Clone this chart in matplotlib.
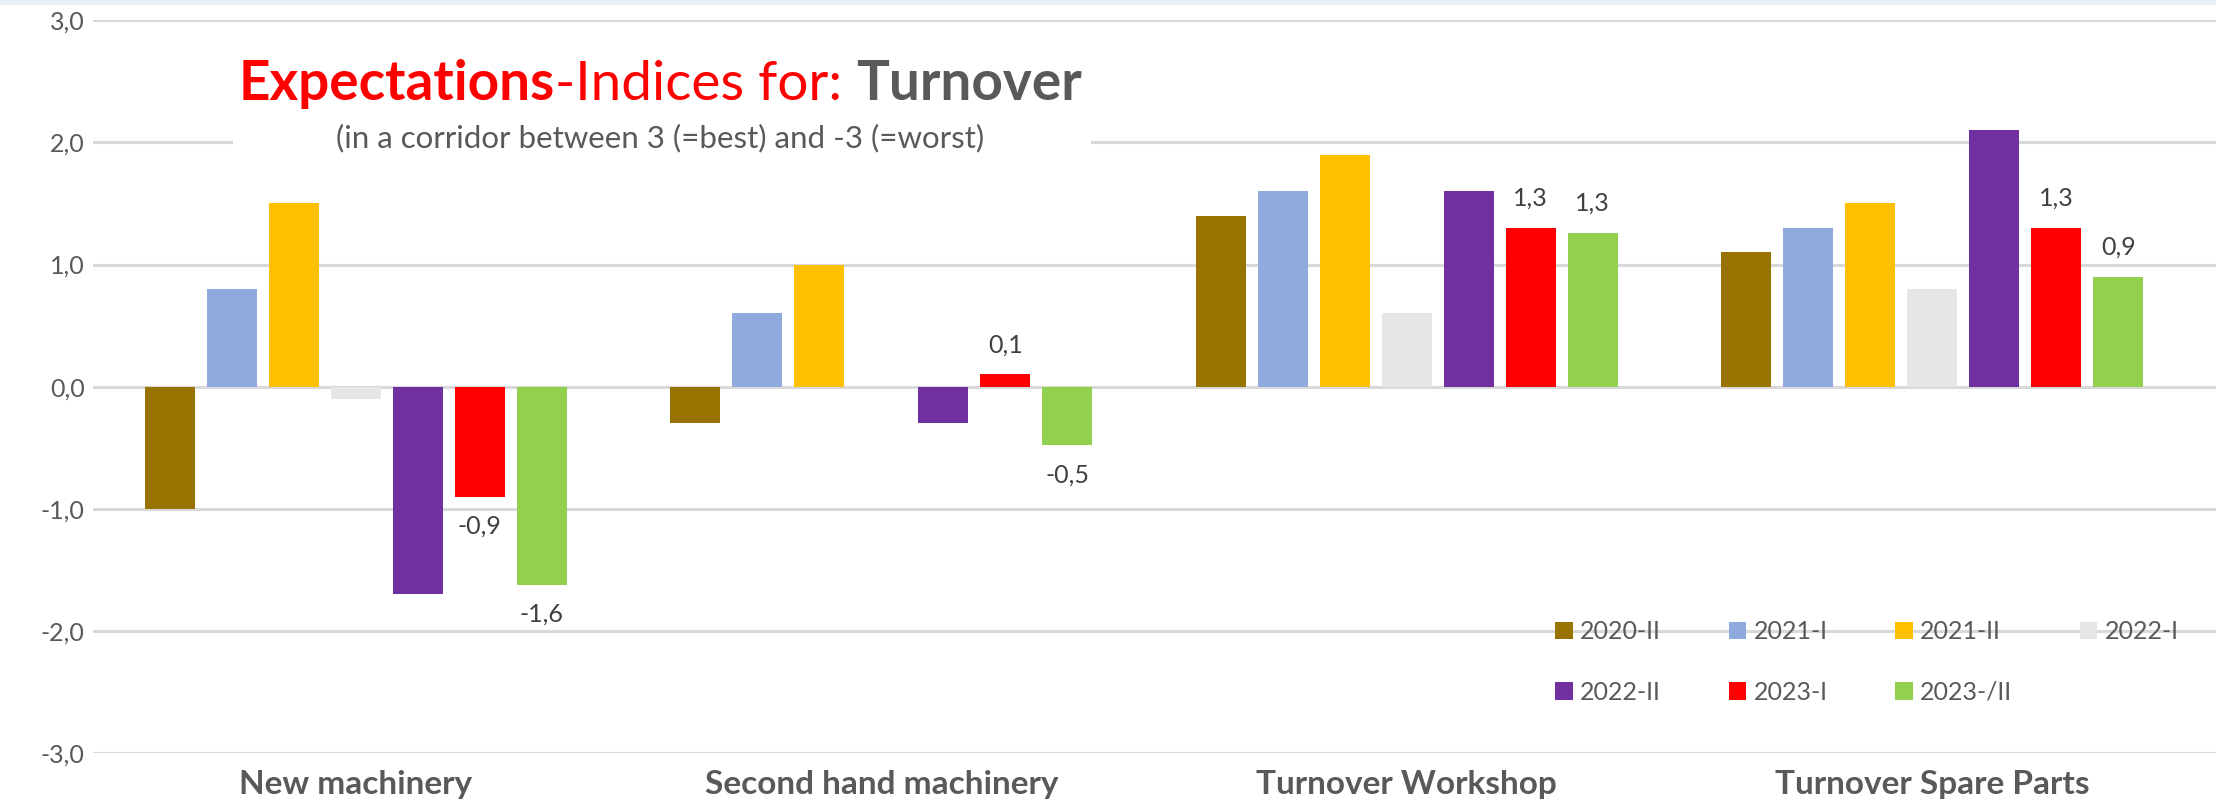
import numpy as np
import matplotlib.pyplot as plt
from matplotlib.patches import Rectangle

categories = ["New machinery", "Second hand machinery", "Turnover Workshop", "Turnover Spare Parts"]
periods = ["2020-II", "2021-I", "2021-II", "2022-I", "2022-II", "2023-I", "2023-/II"]

v_2020_2 = [-1.0, -0.3, 1.4, 1.1]
v_2021_1 = [0.8, 0.6, 1.6, 1.3]
v_2021_2 = [1.5, 1.0, 1.9, 1.5]
v_2022_1 = [-0.1, 0.0, 0.6, 0.8]
v_2022_2 = [-1.7, -0.3, 1.6, 2.1]
v_2023_1 = [-0.9, 0.1, 1.3, 1.3]
v_2023_2 = [-1.62, -0.48, 1.26, 0.9]

series = [v_2020_2, v_2021_1, v_2021_2, v_2022_1, v_2022_2, v_2023_1, v_2023_2]
colors = ["#997300", "#8FAADC", "#FFC000", "#E7E6E6", "#7030A0", "#FF0000", "#92D050"]
labelled = {"2023-I", "2023-/II"}

yticks = [3, 2, 1, 0, -1, -2, -3]

plt.rcParams['font.family'] = ['Lato', 'DejaVu Sans']
grey = "#595959"

fig = plt.figure(figsize=(22.16, 8.09), dpi=100)
fig.patches.append(Rectangle((0, 0.9945), 1, 0.01, transform=fig.transFigure,
                             color="#E8F0F8", zorder=0))
ax = fig.add_axes([0.042, 0.069, 0.958, 0.906])

x = np.arange(len(categories))
step = 0.118
width = 0.095
for i, (name, vals, c) in enumerate(zip(periods, series, colors)):
    pos = x + (i - 3) * step
    ax.bar(pos, vals, width, color=c, label=name, zorder=3)
    if name in labelled:
        for xp, v in zip(pos, vals):
            off = 0.15 if v >= 0 else -0.15
            ax.text(xp, v + off, f"{v:.1f}".replace(".", ","),
                    ha="center", va="bottom" if v >= 0 else "top",
                    fontsize=18, color="#404040", zorder=4)

ax.set_ylim(-3, 3)
ax.set_xlim(-0.5, 3.54)
ax.set_yticks(yticks)
ax.set_yticklabels([f"{t:.1f}".replace(".", ",") for t in yticks], fontsize=18, color=grey)
ax.set_xticks(x)
ax.set_xticklabels(categories, fontsize=24, fontweight="bold", color=grey)
ax.tick_params(axis="both", length=0)
ax.tick_params(axis="x", pad=12)
ax.tick_params(axis="y", pad=6)
for s in ax.spines.values():
    s.set_visible(False)
ax.yaxis.grid(True, color="#D9D9D9", linewidth=2.2, zorder=0)
ax.set_axisbelow(True)

# white panel behind the title block
ax.add_patch(Rectangle((0.066, 0.775), 0.404, 0.2, transform=ax.transAxes,
                       facecolor="white", edgecolor="none", zorder=2))

tx, ty = 0.267, 0.891
t1 = ax.text(0.0, ty, "Expectations", transform=ax.transAxes, fontsize=39.5,
             fontweight="bold", color="#FF0000", va="baseline", zorder=5)
t2 = ax.text(0.0, ty, "-Indices for: ", transform=ax.transAxes, fontsize=39.5,
             color="#FF0000", va="baseline", zorder=5)
t3 = ax.text(0.0, ty, "Turnover", transform=ax.transAxes, fontsize=39.5,
             fontweight="bold", color=grey, va="baseline", zorder=5)
fig.canvas.draw()
r = fig.canvas.get_renderer()
inv = ax.transAxes.inverted()
ws = []
for t in (t1, t2, t3):
    bb = t.get_window_extent(r)
    p0 = inv.transform((bb.x0, bb.y0))
    p1 = inv.transform((bb.x1, bb.y0))
    ws.append(p1[0] - p0[0])
start = tx - sum(ws) / 2
t1.set_x(start)
t2.set_x(start + ws[0])
t3.set_x(start + ws[0] + ws[1])

ax.text(tx, 0.827, "(in a corridor between 3 (=best) and -3 (=worst)", transform=ax.transAxes,
        fontsize=22.5, color=grey, ha="center", va="baseline", zorder=5)

handles, labels = ax.get_legend_handles_labels()
order = [0, 4, 1, 5, 2, 6, 3]
ax.legend([handles[k] for k in order], [labels[k] for k in order], ncol=4,
          loc="upper right", bbox_to_anchor=(0.993, 0.212), frameon=False,
          fontsize=18, labelcolor=grey, handlelength=0.7, handleheight=0.7,
          handletextpad=0.3, columnspacing=2.7, labelspacing=1.5)

fig.savefig("out.png", dpi=100)
